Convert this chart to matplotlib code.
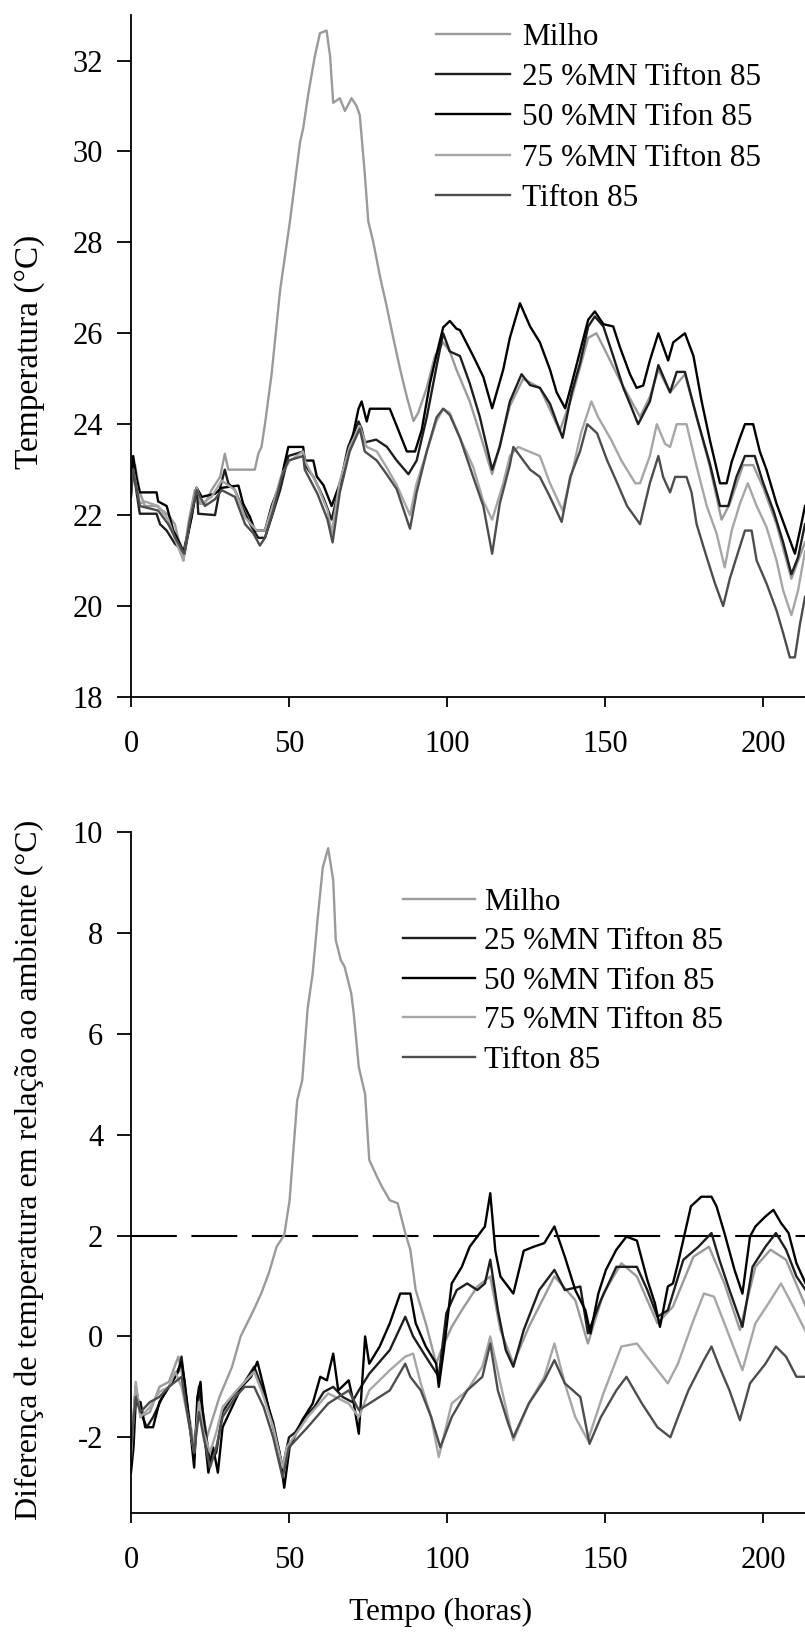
import matplotlib.pyplot as plt

plt.rcParams['font.family'] = ['Liberation Serif', 'DejaVu Serif']
plt.rcParams['axes.unicode_minus'] = False

labels = ['Milho', '25 %MN Tifton 85', '50 %MN Tifon 85', '75 %MN Tifton 85', 'Tifton 85']
colors = ['#9a9a9a', '#1e1e1e', '#000000', '#a6a6a6', '#4d4d4d']

# ---- top panel: temperature (°C) ----
milho_t1 = [0, 1.3, 2.8, 4.4, 8.1, 11.8, 13.9, 16.6, 18.1, 20.2, 21.8, 23.4, 25.5, 28.2, 29.7, 30.8, 39.2, 40.3,
            41.3, 42.4, 44.5, 47.2, 50.3, 53.5, 54.5, 56.1, 58.2, 59.8, 61.9, 63.0, 64.0, 66.1, 67.7, 69.8, 71.4,
            72.4, 74.0, 75.1, 76.7, 78.8, 80.9, 83.0, 85.2, 87.3, 89.4, 90.9, 93.6, 96.2, 98.8, 100.9, 103.0, 107.2,
            110.4, 114.3, 119.9, 124.1, 129.4, 135.7, 139.5, 144.7, 147.3, 150.5, 154.7, 161.1, 164.2, 166.9, 170.6,
            175.3, 179.0, 183.2, 186.9, 189.5, 193.7, 196.9, 200.1, 204.3, 209.0, 213.3]
milho_v1 = [22.84, 23.1, 22.5, 22.2, 22.2, 22.0, 21.8, 21.0, 21.8, 22.55, 22.25, 22.25, 22.55, 22.84, 23.35, 23.0, 23.0,
            23.35, 23.5, 24.0, 25.1, 26.95, 28.46, 30.2, 30.51, 31.26, 32.1, 32.6, 32.66, 32.1, 31.07, 31.17, 30.89,
            31.17, 31.0, 30.8, 29.5, 28.46, 28.0, 27.25, 26.6, 25.9, 25.2, 24.6, 24.07, 24.25, 24.8, 25.5, 25.8, 25.6,
            25.2, 24.5, 23.8, 22.9, 24.4, 25.0, 24.8, 23.85, 24.6, 25.9, 26.0, 25.56, 24.97, 24.16, 24.6, 25.2, 24.7,
            25.1, 24.16, 23.06, 21.9, 22.25, 23.1, 23.1, 22.6, 21.8, 20.6, 21.4]

mn25_t1 = [0, 0.7, 2.8, 8.1, 9.2, 11.3, 13.9, 16.6, 19.2, 20.8, 21.3, 26.6, 28.2, 29.7, 30.8, 32.9, 35.0, 38.2, 40.3,
           42.4, 44.5, 47.2, 49.8, 54.5, 55.0, 57.7, 60.9, 63.5, 66.1, 68.7, 72.0, 73.0, 74.0, 77.6, 81.0, 84.1, 87.8,
           90.4, 93.6, 96.7, 98.8, 100.9, 104.1, 107.2, 110.4, 114.3, 116.7, 119.9, 123.6, 126.3, 129.4, 132.6, 134.7,
           136.6, 139.5, 142.1, 144.7, 146.8, 149.5, 152.6, 155.8, 157.9, 160.5, 164.2, 166.9, 170.6, 172.7, 175.3,
           179.0, 183.2, 186.4, 189.0, 191.6, 194.3, 197.4, 200.1, 203.3, 206.4, 209.0, 211.1, 213.3]
mn25_v1 = [22.4, 23.0, 22.03, 22.03, 21.8, 21.66, 21.37, 21.2, 21.95, 22.6, 22.03, 22.0, 22.6, 23.0, 22.7, 22.55, 22.2,
           21.74, 21.5, 21.5, 21.95, 22.55, 23.3, 23.4, 23.1, 22.85, 22.38, 21.9, 22.66, 23.5, 24.06, 23.9, 23.6, 23.66,
           23.5, 23.2, 22.9, 23.2, 24.15, 25.27, 26.0, 25.6, 25.5, 24.9, 24.16, 23.0, 23.5, 24.5, 25.1, 24.86, 24.8,
           24.45, 24.05, 23.7, 24.7, 25.34, 26.15, 26.37, 26.15, 25.5, 24.8, 24.45, 24.0, 24.5, 25.3, 24.7, 25.15,
           25.15, 24.16, 23.13, 22.2, 22.2, 22.84, 23.3, 23.3, 22.7, 22.1, 21.4, 20.7, 21.07, 21.8]

mn50_t1 = [0, 0.7, 1.8, 2.8, 8.1, 8.6, 11.3, 13.4, 15.5, 16.9, 18.7, 20.8, 22.4, 26.6, 28.7, 34.0, 35.5, 37.7, 39.2,
           42.4, 44.5, 47.2, 49.8, 54.5, 55.0, 57.7, 58.8, 60.9, 63.5, 65.6, 67.7, 70.4, 72.0, 73.0, 74.6, 75.6, 81.9,
           84.1, 87.3, 89.9, 92.0, 94.6, 96.7, 98.8, 100.9, 103.0, 104.1, 108.3, 111.5, 114.3, 117.8, 119.9, 123.1,
           126.3, 129.4, 132.6, 134.7, 137.4, 139.5, 142.1, 144.7, 146.8, 149.5, 152.6, 154.7, 157.9, 160.0, 162.1,
           164.2, 166.9, 170.0, 171.6, 175.3, 178.0, 180.6, 183.2, 186.4, 188.5, 190.1, 192.7, 194.3, 196.9, 199.0,
           201.1, 204.3, 207.4, 210.1, 211.7, 213.3]
mn50_v1 = [22.55, 23.3, 22.8, 22.5, 22.5, 22.3, 22.2, 21.66, 21.37, 21.15, 21.8, 22.6, 22.4, 22.47, 22.6, 22.65, 22.25,
           21.95, 21.66, 21.66, 22.2, 22.7, 23.5, 23.5, 23.2, 23.2, 22.85, 22.66, 22.2, 22.6, 23.05, 23.8, 24.34, 24.5,
           24.06, 24.34, 24.34, 23.96, 23.4, 23.4, 23.87, 24.9, 25.53, 26.13, 26.27, 26.1, 26.07, 25.5, 25.04, 24.35,
           25.2, 25.9, 26.66, 26.15, 25.8, 25.2, 24.7, 24.35, 24.9, 25.6, 26.3, 26.48, 26.2, 26.15, 25.7, 25.1, 24.8,
           24.85, 25.4, 26.0, 25.4, 25.8, 26.0, 25.5, 24.5, 23.65, 22.7, 22.7, 23.17, 23.7, 24.0, 24.0, 23.4, 23.0,
           22.25, 21.66, 21.15, 21.66, 22.2]

mn75_t1 = [0, 0.7, 2.8, 4.4, 8.6, 11.8, 14.5, 16.6, 18.7, 20.8, 22.4, 25.5, 28.7, 32.9, 36.1, 39.8, 42.4, 45.0, 47.7,
           50.3, 54.5, 55.0, 59.0, 62.2, 63.5, 66.1, 69.2, 72.4, 74.6, 77.8, 80.9, 84.1, 88.3, 90.4, 93.6, 96.7, 98.8,
           100.9, 104.1, 108.3, 111.5, 114.3, 117.8, 119.9, 122.5, 129.4, 132.6, 136.6, 139.8, 142.4, 145.7, 147.8,
           152.0, 155.2, 159.6, 161.1, 164.2, 166.4, 169.0, 170.6, 172.7, 175.8, 178.9, 182.2, 185.3, 187.9, 190.1,
           192.7, 195.2, 198.0, 201.1, 204.3, 206.4, 209.0, 211.1, 213.3]
mn75_v1 = [22.6, 23.0, 22.25, 22.3, 22.2, 21.9, 21.37, 21.0, 21.95, 22.6, 22.25, 22.4, 22.76, 22.55, 21.95, 21.66,
           21.66, 22.25, 22.9, 23.2, 23.4, 23.2, 22.66, 22.1, 21.6, 22.75, 23.5, 23.96, 23.5, 23.4, 23.05, 22.66, 22.0,
           22.7, 23.4, 24.07, 24.34, 24.25, 23.7, 23.06, 22.3, 21.9, 22.7, 23.3, 23.5, 23.3, 22.7, 22.1, 23.0, 23.8,
           24.5, 24.16, 23.65, 23.2, 22.7, 22.7, 23.3, 24.0, 23.57, 23.5, 24.0, 24.0, 23.1, 22.2, 21.6, 20.85, 21.66,
           22.25, 22.7, 22.2, 21.74, 21.0, 20.34, 19.8, 20.34, 21.2]

tif_t1 = [0, 0.7, 2.8, 8.6, 11.8, 14.0, 16.9, 18.7, 20.8, 23.4, 26.6, 28.7, 32.9, 36.1, 38.7, 40.8, 42.4, 45.0, 47.7,
          49.8, 54.5, 55.0, 59.0, 62.2, 63.8, 66.1, 69.2, 72.4, 74.0, 77.8, 80.9, 84.1, 88.3, 90.4, 93.6, 96.7, 98.8,
          100.9, 104.1, 108.3, 111.5, 114.3, 116.7, 119.9, 121.0, 126.3, 129.4, 132.6, 136.3, 139.0, 142.1, 144.4,
          147.5, 150.7, 153.9, 157.0, 161.1, 164.2, 166.9, 168.4, 170.6, 172.2, 175.8, 177.4, 179.0, 182.2, 184.8,
          187.4, 189.5, 192.2, 194.3, 196.4, 198.0, 201.1, 204.3, 206.4, 208.5, 210.1, 211.7, 213.3]
tif_v1 = [22.45, 23.0, 22.2, 22.1, 21.8, 21.5, 21.15, 21.9, 22.55, 22.2, 22.35, 22.55, 22.4, 21.8, 21.6, 21.33, 21.5,
          22.1, 22.84, 23.2, 23.3, 23.0, 22.47, 21.9, 21.4, 22.5, 23.4, 23.9, 23.4, 23.2, 22.9, 22.57, 21.7, 22.5,
          23.4, 24.15, 24.34, 24.2, 23.7, 22.84, 22.2, 21.15, 22.25, 23.1, 23.5, 23.0, 22.84, 22.4, 21.85, 22.84,
          23.4, 24.0, 23.8, 23.2, 22.7, 22.2, 21.8, 22.7, 23.3, 22.84, 22.5, 22.84, 22.84, 22.5, 21.8, 21.07, 20.5,
          20.0, 20.6, 21.2, 21.66, 21.66, 21.0, 20.5, 19.9, 19.4, 18.87, 18.87, 19.6, 20.2]

# ---- bottom panel: difference to ambient (°C) ----
milho_t2 = [0, 1.5, 3, 6, 9, 12, 15, 17, 19, 20, 22, 24, 26, 28, 30, 32, 34.7, 38.8, 41.2, 43.6, 46.1, 48.5, 50.2,
            52.6, 54.2, 55.9, 57.5, 59.1, 60.7, 62.4, 64.0, 64.8, 66.4, 67.6, 69.7, 70.5, 72.1, 74.1, 75.4, 77.9,
            79.5, 81.9, 84.4, 86.8, 88.4, 90.1, 93.3, 96.6, 98.2, 101.5, 104.7, 109.6, 113.7, 116.9, 121.0, 125.9,
            134.0, 140.6, 144.6, 149.5, 155.2, 160.1, 166.6, 171.5, 178.0, 182.9, 187.8, 192.7, 197.6, 202.4, 207.3,
            213.5]
milho_v2 = [-2.5, -1.0, -1.6, -1.5, -1.0, -0.9, -0.4, -1.0, -1.8, -2.2, -1.2, -2.0, -1.6, -1.2, -0.9, -0.6, 0.0, 0.52,
            0.85, 1.25, 1.78, 2.01, 2.7, 4.68, 5.08, 6.5, 7.2, 8.3, 9.3, 9.68, 9.05, 7.86, 7.46, 7.33, 6.8, 6.4, 5.34,
            4.8, 3.5, 3.16, 2.96, 2.7, 2.64, 2.05, 1.72, 0.92, 0.26, -0.54, -0.27, 0.19, 0.52, 0.99, 1.19, 0.13, -0.54,
            0.19, 1.19, 0.72, -0.14, 0.85, 1.45, 1.19, 0.26, 0.59, 1.58, 1.78, 1.05, 0.13, 1.38, 1.72, 1.52, 0.6]

mn25_t2 = [0, 1.5, 3, 5, 7, 10, 13, 15, 16, 18, 20, 21.5, 23, 25, 27, 29, 32, 36, 39, 42, 45, 48, 50, 52, 55, 58, 61,
           64, 67, 70, 72.1, 75.4, 81.9, 86.8, 89.3, 93.3, 97.4, 99.8, 103.1, 106.4, 109.6, 112.0, 113.7, 116.1,
           118.6, 121.0, 124.3, 129.2, 134.0, 137.3, 142.2, 144.6, 148.7, 153.6, 160.1, 163.4, 166.6, 169.9, 174.8,
           179.6, 183.7, 186.2, 189.4, 193.5, 196.7, 200.8, 204.1, 207.3, 210.6, 213.5]
mn25_v2 = [-2.3, -1.0, -1.5, -1.8, -1.6, -1.2, -0.9, -0.7, -0.4, -1.5, -2.4, -1.0, -1.6, -2.5, -2.3, -1.5, -1.2, -0.9,
           -0.6, -1.1, -1.7, -2.6, -2.0, -1.9, -1.6, -1.4, -1.1, -1.0, -1.2, -1.3, -1.07, -0.74, -0.27, 0.39, 0.0,
           -0.4, -0.8, 0.46, 0.92, 1.05, 0.92, 1.05, 1.52, 0.52, -0.27, -0.6, 0.13, 0.92, 1.32, 0.92, 0.99, 0.06,
           0.72, 1.38, 1.38, 0.92, 0.39, 0.52, 1.52, 1.78, 2.05, 1.52, 0.92, 0.19, 1.38, 1.78, 2.05, 1.72, 1.19, 0.92]

mn50_t2 = [0, 0.8, 1.5, 3, 4.5, 7, 9, 12, 14, 16, 17, 19, 20, 21, 22, 23, 24.5, 26, 27.5, 29, 32, 35, 38, 40, 42, 45,
           47, 48.5, 50.2, 54.2, 57.5, 59.9, 62.0, 64.0, 65.6, 68.9, 70.5, 72.1, 74.1, 75.4, 78.7, 81.9, 85.2, 88.4,
           90.1, 93.3, 96.6, 97.4, 99.0, 101.5, 104.7, 107.2, 109.6, 112.0, 113.7, 115.3, 116.9, 121.0, 124.3, 127.5,
           130.8, 134.0, 137.3, 140.6, 143.8, 145.4, 147.9, 150.3, 153.6, 156.8, 160.1, 163.4, 165.8, 167.4, 169.9,
           171.5, 173.1, 177.2, 180.5, 183.7, 185.3, 187.8, 191.0, 193.5, 195.9, 197.6, 200.8, 203.3, 205.7, 208.1,
           210.6, 213.5]
mn50_v2 = [-2.7, -2.2, -1.3, -1.3, -1.8, -1.8, -1.3, -1.0, -0.8, -0.5, -0.9, -2.0, -2.6, -1.2, -0.9, -1.8, -2.7, -2.2,
           -2.7, -1.8, -1.4, -1.0, -0.8, -0.5, -1.0, -1.8, -2.3, -3.0, -2.2, -1.66, -1.33, -0.8, -0.87, -0.34, -1.07,
           -0.87, -1.33, -1.93, 0.0, -0.54, -0.2, 0.26, 0.85, 0.85, 0.26, -0.2, -0.54, -1.0, -0.27, 1.05, 1.38, 1.78,
           1.98, 2.18, 2.84, 1.7, 1.19, 0.85, 1.7, 1.78, 1.85, 2.18, 1.58, 0.92, 0.52, 0.06, 0.85, 1.32, 1.72, 1.98,
           1.9, 1.12, 0.66, 0.19, 0.99, 1.05, 1.45, 2.58, 2.77, 2.77, 2.58, 2.05, 1.32, 0.85, 1.98, 2.18, 2.38, 2.51,
           2.25, 2.05, 1.45, 1.05]

mn75_t2 = [0, 1.5, 3, 6, 9, 12, 14, 16, 18, 20, 21.5, 23, 25, 27, 29, 33, 36, 39, 42, 45, 48, 49.3, 55.9, 62.4, 68.9,
           72.1, 75.4, 81.9, 86.8, 89.3, 91.7, 95.0, 97.4, 101.5, 106.4, 111.2, 113.7, 116.9, 121.0, 125.9, 130.8,
           134.0, 137.3, 140.6, 144.6, 149.5, 155.2, 160.1, 165.0, 169.9, 173.1, 178.0, 181.3, 184.5, 189.4, 193.5,
           197.6, 202.4, 205.7, 209.0, 213.5]
mn75_v2 = [-2.4, -0.9, -1.6, -1.4, -1.1, -1.0, -0.7, -1.0, -1.6, -2.3, -1.3, -1.9, -2.3, -1.9, -1.4, -1.1, -0.9, -0.7,
           -1.2, -1.8, -2.6, -2.2, -1.6, -1.13, -1.33, -1.6, -1.07, -0.67, -0.4, -0.34, -0.93, -1.6, -2.39, -1.33,
           -1.07, -0.6, 0.0, -0.93, -2.06, -1.33, -0.8, -0.14, -0.93, -1.6, -2.06, -1.13, -0.2, -0.14, -0.54, -0.93,
           -0.54, 0.32, 0.85, 0.79, 0.0, -0.67, 0.26, 0.72, 1.05, 0.66, 0.1]

tif_t2 = [0, 1.5, 3, 6, 9, 12, 14, 16, 18, 20, 21.5, 23, 25, 27, 29, 33, 36, 39, 42, 45, 48, 50, 55.9, 62.4, 68.9,
          72.1, 75.4, 81.9, 86.8, 88.4, 91.7, 95.0, 97.9, 101.5, 106.4, 111.2, 113.7, 116.1, 119.4, 121.0, 125.9,
          130.8, 134.0, 137.3, 142.2, 145.1, 148.7, 153.6, 156.8, 161.7, 166.6, 170.7, 173.1, 176.4, 181.3, 183.7,
          186.2, 189.4, 192.7, 195.9, 200.8, 204.1, 207.3, 210.6, 213.5]
tif_v2 = [-2.2, -1.2, -1.5, -1.3, -1.2, -1.0, -0.9, -0.8, -1.6, -2.3, -1.5, -2.0, -2.6, -2.2, -1.6, -1.2, -1.0, -1.0,
          -1.4, -2.0, -2.8, -2.2, -1.8, -1.33, -1.07, -1.46, -1.33, -1.07, -0.54, -0.8, -1.07, -1.6, -2.2, -1.6, -1.07,
          -0.8, -0.14, -1.07, -1.73, -2.0, -1.33, -0.87, -0.47, -0.93, -1.2, -2.13, -1.6, -1.07, -0.8, -1.33, -1.8,
          -2.0, -1.6, -1.07, -0.47, -0.2, -0.6, -1.07, -1.66, -0.93, -0.54, -0.2, -0.4, -0.8, -0.8]

limit_line = 2
xticks = [0, 50, 100, 150, 200]
yticks_top = [18, 20, 22, 24, 26, 28, 30, 32]
yticks_bottom = [-2, 0, 2, 4, 6, 8, 10]

top_series = [(milho_t1, milho_v1), (mn25_t1, mn25_v1), (mn50_t1, mn50_v1), (mn75_t1, mn75_v1), (tif_t1, tif_v1)]
bottom_series = [(milho_t2, milho_v2), (mn25_t2, mn25_v2), (mn50_t2, mn50_v2), (mn75_t2, mn75_v2), (tif_t2, tif_v2)]

fs_tick = 22
fs_leg = 22.5
fig = plt.figure(figsize=(8.05, 16.36), dpi=100)
ax1 = fig.add_axes([0.1627, 0.5740, 0.8373, 0.4168])
ax2 = fig.add_axes([0.1627, 0.0752, 0.8373, 0.4162])

for ax, series in [(ax1, top_series), (ax2, bottom_series)]:
    for (t, v), lab, c in zip(series, labels, colors):
        ax.plot(t, v, color=c, lw=1.7, label=lab)
    ax.set_xlim(0, 213.3)
    ax.set_xticks(xticks)
    for s in ['top', 'right']:
        ax.spines[s].set_visible(False)
    for s in ['left', 'bottom']:
        ax.spines[s].set_linewidth(1.3)
    ax.tick_params(axis='y', direction='out', length=10, width=1.3, pad=10, labelsize=fs_tick)
    ax.tick_params(axis='x', direction='out', length=7.5, width=1.3, pad=16, labelsize=fs_tick)

ax1.set_ylim(18, 33)
ax1.set_yticks(yticks_top)
ax2.set_ylim(-3.5, 10)
ax2.set_yticks(yticks_bottom)
ax2.axhline(limit_line, color='black', lw=1.5, dashes=(22, 7), zorder=0)

ax1.legend(loc='upper left', bbox_to_anchor=(0.5416, 0.9862), bbox_transform=fig.transFigure,
           frameon=False, fontsize=fs_leg, borderpad=0, borderaxespad=0, handlelength=2.37,
           handletextpad=0.38, labelspacing=0.365)
ax2.legend(loc='upper left', bbox_to_anchor=(0.5006, 0.4575), bbox_transform=fig.transFigure,
           frameon=False, fontsize=fs_leg, borderpad=0, borderaxespad=0, handlelength=2.3,
           handletextpad=0.3, labelspacing=0.34)

fig.text(30 / 805, 1 - 352 / 1636, 'Temperatura (°C)', rotation=90, ha='center', va='center', fontsize=24)
fig.text(29 / 805, 1 - 1170 / 1636, 'Diferença de temperatura em relação ao ambiente (°C)',
         rotation=90, ha='center', va='center', fontsize=23)
fig.text(441 / 805, 1 - 1612 / 1636, 'Tempo (horas)', ha='center', va='center', fontsize=fs_leg)

fig.savefig('out.png', dpi=100)
